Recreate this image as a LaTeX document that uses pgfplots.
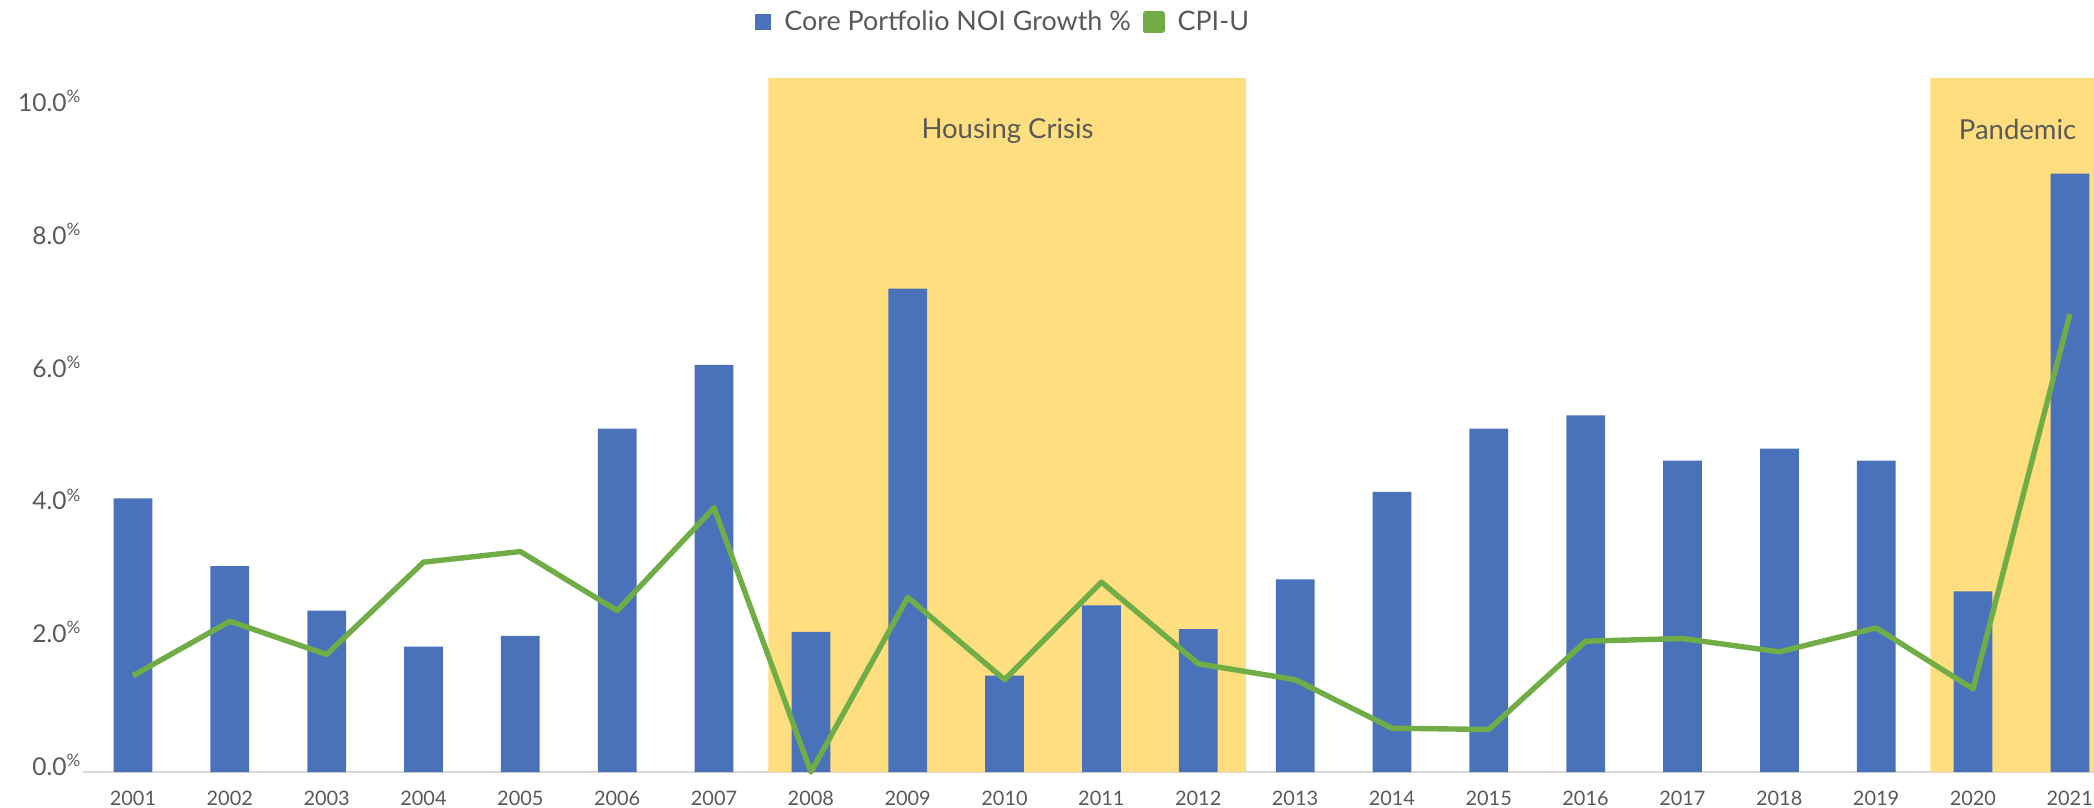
\documentclass[border=0pt]{standalone}
\usepackage{pgfplots}
\pgfplotsset{compat=1.18}
\usepackage{fontspec}
\setmainfont{Lato}
\definecolor{barblue}{HTML}{4A72BA}
\definecolor{cpigreen}{HTML}{70AD47}
\definecolor{shade}{HTML}{FFDE80}
\definecolor{txt}{HTML}{595959}
\pgfplotstableread{
year noi cpi
2001 4.12 1.45
2002 3.10 2.27
2003 2.43 1.77
2004 1.89 3.16
2005 2.05 3.32
2006 5.17 2.43
2007 6.13 3.98
2008 2.11 0.00
2009 7.28 2.63
2010 1.45 1.39
2011 2.51 2.86
2012 2.15 1.63
2013 2.90 1.39
2014 4.22 0.66
2015 5.17 0.64
2016 5.37 1.97
2017 4.69 2.01
2018 4.87 1.81
2019 4.69 2.17
2020 2.72 1.25
2021 9.01 6.90
}\datatable
\begin{document}
\begin{tikzpicture}
\useasboundingbox (0,0) rectangle (1047bp,404bp);
\begin{axis}[
  at={(41.5bp,18bp)}, anchor=south west,
  scale only axis, width=1005.5bp, height=348.6bp,
  xmin=2000.484, xmax=2021.248, ymin=0, ymax=10.5,
  clip=false,
  axis x line*=bottom, axis y line*=left,
  x axis line style={draw=black!15, line width=0.8bp, -},
  y axis line style={draw=none},
  major tick length=0pt,
  xtick={2001,...,2021},
  ytick={0,2,...,10},
  /pgf/number format/assume math mode=true,
  xticklabel={\pgfmathprintnumber[1000 sep={}]{\tick}},
  yticklabel={\pgfmathprintnumber[fixed,fixed zerofill,precision=1]{\tick}\textsuperscript{\%}},
  xticklabel style={font=\fontsize{10}{12}\selectfont, text=txt, yshift=-6bp},
  yticklabel style={font=\fontsize{12.3}{14}\selectfont, text=txt, xshift=2.7bp, yshift=3.5bp},
  legend style={at={(0.458,1.0753)}, anchor=center, draw=none, fill=none,
    font=\fontsize{13.5}{16}\selectfont, text=txt, legend columns=2,
    /tikz/every odd column/.append style={column sep=4.5bp},
    /tikz/every even column/.append style={column sep=4bp}},
  legend cell align=left,
]
\addplot[fill=shade, draw=none, forget plot] coordinates {(2007.56,0) (2007.56,10.45) (2012.49,10.45) (2012.49,0)} \closedcycle;
\addplot[fill=shade, draw=none, forget plot] coordinates {(2019.56,0) (2019.56,10.45) (2021.248,10.45) (2021.248,0)} \closedcycle;
\addplot[ybar, bar width=0.4, fill=barblue, draw=none,
  legend image code/.code={\fill[barblue] (0bp,-4.1bp) rectangle (8.2bp,4.1bp);}]
  table[x=year, y=noi] {\datatable};
\addlegendentry{Core Portfolio NOI Growth \%}
\addplot[cpigreen, line width=2.7bp, line join=round,
  legend image code/.code={\fill[cpigreen] (0bp,-4.1bp) rectangle (8.2bp,4.1bp);}]
  table[x=year, y=cpi] {\datatable};
\addlegendentry{CPI-U}
\node[text=txt, font=\fontsize{13.8}{16}\selectfont, anchor=base] at (axis cs:2010.03,9.54) {Housing Crisis};
\node[text=txt, font=\fontsize{13.8}{16}\selectfont, anchor=base] at (axis cs:2020.46,9.53) {Pandemic};
\end{axis}
\end{tikzpicture}
\end{document}
